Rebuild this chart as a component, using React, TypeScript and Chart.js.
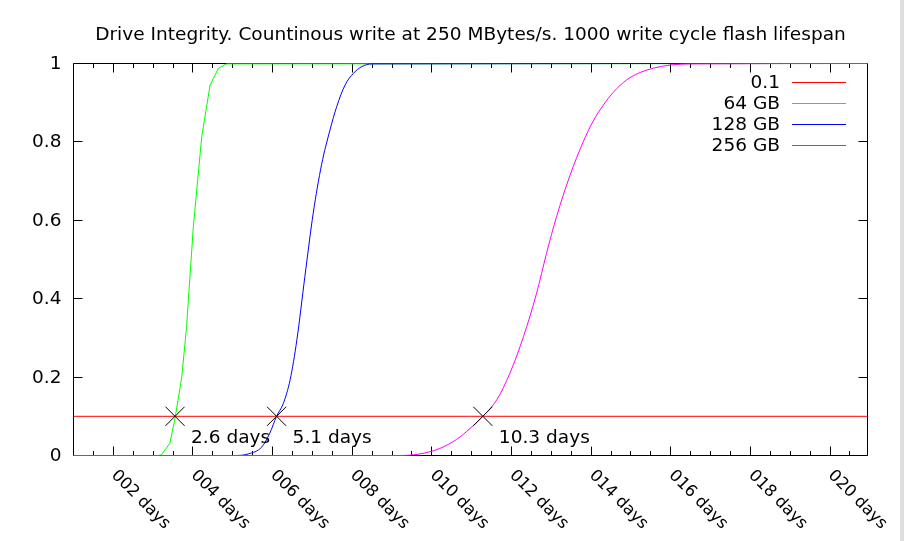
import React, { useEffect, useRef } from 'react';
import { Chart, registerables } from 'chart.js';

Chart.register(...registerables);

const TITLE = 'Drive Integrity. Countinous write at 250 MBytes/s. 1000 write cycle flash lifespan';
const FONT_H = '17.5px "DejaVu Sans", sans-serif';
const FONT_ROT = '16.5px "DejaVu Sans", sans-serif';
const TEXT_SX = 1.06;

// x axis in days (label shows day-of-year style "%j days": value + 1)
const X_MIN = 0;
const X_MAX = 19.94;
const xMajorTicks = [1, 3, 5, 7, 9, 11, 13, 15, 17, 19];
const xTickLabels = ['002 days', '004 days', '006 days', '008 days', '010 days', '012 days', '014 days', '016 days', '018 days', '020 days'];
const xMinorStep = 0.5;

const yTicks = [0, 0.2, 0.4, 0.6, 0.8, 1];
const yTickLabels = ['0', '0.2', '0.4', '0.6', '0.8', '1'];

const seriesNames = ['0.1', '64 GB', '128 GB', '256 GB'];
const seriesColors = ['#ff0000', '#00ff00', '#0000ff', '#ff00ff'];

const thresholdValue = 0.1;

const days64 = [0, 2.13, 2.21, 2.42, 2.55, 2.72, 2.84, 3.01, 3.22, 3.43, 3.64, 3.85, 19.94];
const frac64 = [0, 0, 0.002, 0.031, 0.095, 0.201, 0.329, 0.584, 0.813, 0.945, 0.988, 0.999, 1];

const days128 = [0, 4.06, 4.39, 4.73, 4.93, 5.10, 5.27, 5.44, 5.61, 5.81, 6.02, 6.23, 6.44, 6.61, 6.82, 7.03, 7.24, 7.49, 19.94];
const frac128 = [0, 0, 0.004, 0.022, 0.057, 0.1, 0.133, 0.193, 0.295, 0.456, 0.618, 0.742, 0.830, 0.890, 0.945, 0.975, 0.992, 0.999, 1];

const days256 = [0, 8.20, 8.70, 9.20, 9.62, 9.96, 10.28, 10.63, 10.96, 11.30, 11.63, 11.88, 12.13, 12.47, 12.80, 13.05, 13.30, 13.56, 13.89, 14.23, 14.56, 14.98, 15.57, 19.94];
const frac256 = [0, 0, 0.004, 0.018, 0.041, 0.069, 0.1, 0.142, 0.210, 0.303, 0.414, 0.516, 0.609, 0.715, 0.800, 0.853, 0.893, 0.927, 0.958, 0.977, 0.988, 0.996, 0.999, 1];

const crossingDays = [2.55, 5.1, 10.28];
const crossingLabels = ['2.6 days', '5.1 days', '10.3 days'];

const toPoints = (xs: number[], ys: number[]) => xs.map((x, i) => ({ x, y: ys[i] }));

const crisp = (v: number) => Math.floor(v) + 0.5;

function hText(ctx: CanvasRenderingContext2D, text: string, x: number, y: number, align: CanvasTextAlign, baseline: CanvasTextBaseline) {
  ctx.save();
  ctx.translate(x, y);
  ctx.scale(TEXT_SX, 1);
  ctx.font = FONT_H;
  ctx.textAlign = align;
  ctx.textBaseline = baseline;
  ctx.fillStyle = '#000000';
  ctx.fillText(text, 0, 0);
  ctx.restore();
}

const gnuplotPlugin = {
  id: 'gnuplotDecor',
  beforeDraw(chart: any) {
    const ctx = chart.ctx;
    ctx.save();
    ctx.fillStyle = '#ffffff';
    ctx.fillRect(0, 0, chart.width, chart.height);
    ctx.fillStyle = '#dedede';
    ctx.fillRect(900, 0, chart.width - 900, chart.height);
    ctx.restore();
  },
  beforeDatasetsDraw(chart: any) {
    const ctx = chart.ctx;
    const { left, right, top, bottom } = chart.chartArea;
    const xs = chart.scales.x;
    const ys = chart.scales.y;
    ctx.save();
    ctx.strokeStyle = '#000000';
    ctx.lineWidth = 1;
    ctx.beginPath();
    ctx.rect(crisp(left), crisp(top), Math.round(right - left), Math.round(bottom - top));
    const major = 9;
    const minor = 4.5;
    for (let v = xMinorStep; v < X_MAX; v += xMinorStep) {
      const isMajor = xMajorTicks.some((t) => Math.abs(t - v) < 1e-6);
      const len = isMajor ? major : minor;
      const px = crisp(xs.getPixelForValue(v));
      ctx.moveTo(px, bottom);
      ctx.lineTo(px, bottom - len);
      ctx.moveTo(px, top);
      ctx.lineTo(px, top + len);
    }
    for (const t of yTicks) {
      const py = crisp(ys.getPixelForValue(t));
      ctx.moveTo(left, py);
      ctx.lineTo(left + major, py);
      ctx.moveTo(right, py);
      ctx.lineTo(right - major, py);
    }
    ctx.stroke();
    ctx.restore();
  },
  afterDatasetsDraw(chart: any) {
    const ctx = chart.ctx;
    const { left, right, bottom } = chart.chartArea;
    const xs = chart.scales.x;
    const ys = chart.scales.y;
    ctx.save();

    // title
    hText(ctx, TITLE, (left + right) / 2, 39.5, 'center', 'alphabetic');

    // y tick labels
    yTicks.forEach((t, i) => {
      hText(ctx, yTickLabels[i], left - 12, ys.getPixelForValue(t) + 1, 'right', 'middle');
    });

    // x tick labels rotated
    ctx.fillStyle = '#000000';
    ctx.font = FONT_ROT;
    xMajorTicks.forEach((t, i) => {
      const px = xs.getPixelForValue(t);
      ctx.save();
      ctx.translate(px - 2.5, bottom + 20.5);
      ctx.rotate(Math.PI / 4);
      ctx.textAlign = 'left';
      ctx.textBaseline = 'alphabetic';
      ctx.fillText(xTickLabels[i], 0, 0);
      ctx.restore();
    });

    // crossing labels
    crossingDays.forEach((d, i) => {
      const px = xs.getPixelForValue(d);
      const py = ys.getPixelForValue(thresholdValue);
      hText(ctx, crossingLabels[i], px + 16, py + 27, 'left', 'alphabetic');
    });

    // legend
    const textRight = 780;
    const sampleStart = 792;
    const sampleEnd = 846;
    seriesNames.forEach((name, i) => {
      const y = 82.7 + i * 21;
      hText(ctx, name, textRight, y + 1, 'right', 'middle');
      ctx.strokeStyle = seriesColors[i];
      ctx.lineWidth = 1;
      ctx.beginPath();
      ctx.moveTo(sampleStart, crisp(y));
      ctx.lineTo(sampleEnd, crisp(y));
      ctx.stroke();
    });
    ctx.restore();
  },
};

export default function App() {
  const ref = useRef<HTMLCanvasElement | null>(null);
  useEffect(() => {
    if (!ref.current) return;
    const chart = new Chart(ref.current, {
      type: 'line',
      data: {
        datasets: [
          {
            label: seriesNames[0],
            data: toPoints([X_MIN, X_MAX], [thresholdValue, thresholdValue]),
            borderColor: seriesColors[0],
            borderWidth: 1,
            pointRadius: 0,
            order: 5,
            clip: false,
          },
          {
            label: seriesNames[1],
            data: toPoints(days64, frac64),
            borderColor: seriesColors[1],
            borderWidth: 1,
            pointRadius: 0,
            order: 4,
            clip: false,
          },
          {
            label: seriesNames[2],
            data: toPoints(days128, frac128),
            borderColor: seriesColors[2],
            borderWidth: 1,
            pointRadius: 0,
            cubicInterpolationMode: 'monotone',
            order: 3,
            clip: false,
          },
          {
            label: seriesNames[3],
            data: toPoints(days256, frac256),
            borderColor: seriesColors[3],
            borderWidth: 1,
            pointRadius: 0,
            cubicInterpolationMode: 'monotone',
            order: 2,
            clip: false,
          },
          {
            label: 'crossings',
            data: crossingDays.map((d) => ({ x: d, y: thresholdValue })),
            showLine: false,
            pointStyle: 'crossRot',
            pointRadius: 13.5,
            pointBorderColor: '#000000',
            pointBorderWidth: 1,
            borderColor: '#000000',
            order: 1,
            clip: false,
          },
        ] as any,
      },
      options: {
        animation: false,
        responsive: false,
        devicePixelRatio: 1,
        layout: { padding: { left: 73.5, right: 36.5, top: 63.5, bottom: 85.5 } },
        scales: {
          x: { type: 'linear', min: X_MIN, max: X_MAX, display: false },
          y: { type: 'linear', min: 0, max: 1, display: false },
        },
        plugins: {
          legend: { display: false },
          tooltip: { enabled: false },
          title: { display: false },
        },
        events: [],
      } as any,
      plugins: [gnuplotPlugin],
    });
    return () => chart.destroy();
  }, []);
  return (
    <div style={{ position: 'fixed', left: 0, top: 0, width: 904, height: 541 }}>
      <canvas ref={ref} width={904} height={541} style={{ display: 'block' }} />
    </div>
  );
}
